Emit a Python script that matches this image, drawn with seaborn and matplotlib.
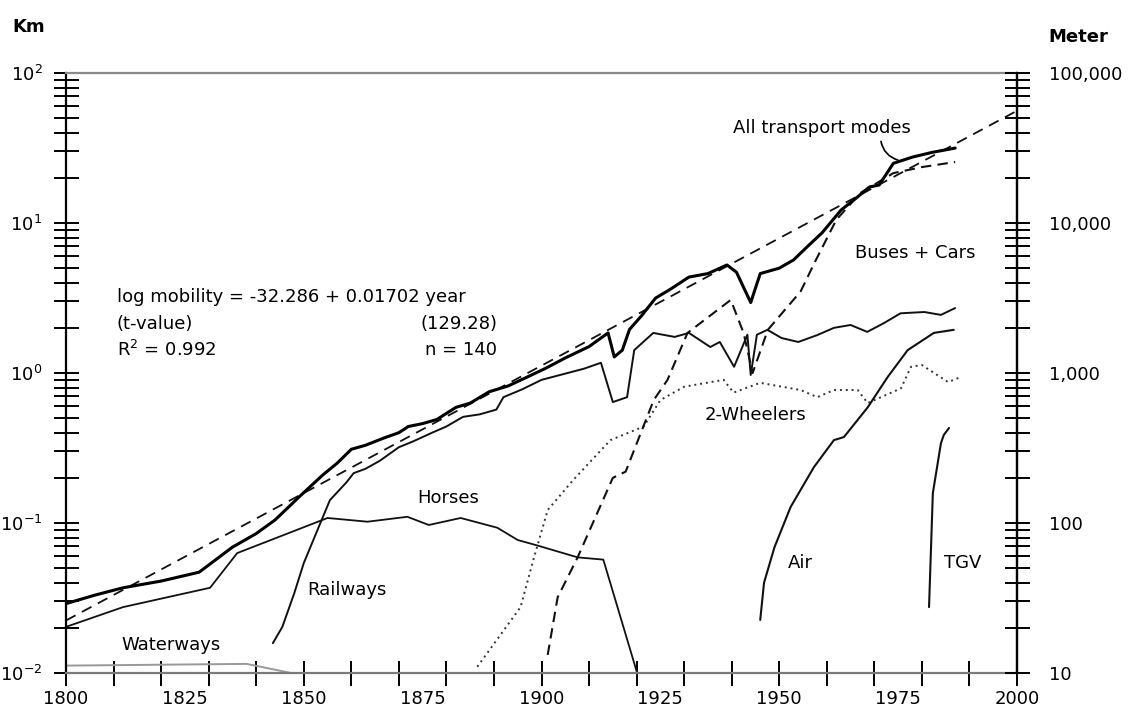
import numpy as np
import pandas as pd
import matplotlib
matplotlib.use("Agg")
import matplotlib.pyplot as plt
import seaborn as sns
from matplotlib.ticker import FixedLocator, NullFormatter, FixedFormatter

# ---------------- data (km per person per day, France) ----------------
trend_years = [1800, 2000]
trend_vals = [0.0224, 56.0]

all_years = [1800, 1806, 1812, 1820, 1828, 1835, 1840, 1844, 1849, 1854, 1857, 1860, 1863,
             1867, 1870, 1872, 1875, 1878, 1882, 1885, 1889, 1893, 1897, 1901, 1905, 1910,
             1914, 1915.3, 1917, 1918.5, 1921, 1924, 1927, 1931, 1935, 1939, 1941, 1944,
             1946, 1950, 1953, 1956, 1959, 1963, 1966, 1969, 1971, 1974, 1978, 1982, 1987]
all_vals = [0.029, 0.033, 0.037, 0.041, 0.047, 0.069, 0.085, 0.105, 0.149, 0.209, 0.25, 0.31,
            0.33, 0.37, 0.40, 0.44, 0.46, 0.49, 0.59, 0.63, 0.75, 0.82, 0.94, 1.08, 1.26, 1.5,
            1.85, 1.28, 1.42, 1.95, 2.4, 3.16, 3.6, 4.36, 4.6, 5.25, 4.7, 2.95,
            4.6, 5.0, 5.67, 7.0, 8.6, 12.2, 14.5, 17.4, 17.9, 25.0, 27.5, 29.5, 31.6]

rail_years = [1843.5, 1845.5, 1848, 1850, 1853.5, 1855.5, 1859, 1860.5, 1863, 1866, 1870, 1873,
              1877, 1880, 1883.5, 1887, 1890.5, 1892, 1896, 1900, 1905.5, 1909, 1912.5, 1915,
              1918, 1919.5, 1923.5, 1928, 1931, 1935.5, 1937.5, 1940.5, 1943.3, 1944, 1945.3,
              1947.5, 1950.5, 1954, 1958, 1961.5, 1965, 1968.5, 1972, 1975.5, 1980.5, 1984, 1987]
rail_vals = [0.0158, 0.0203, 0.034, 0.054, 0.1, 0.142, 0.187, 0.215, 0.23, 0.26, 0.32, 0.35,
             0.4, 0.44, 0.51, 0.53, 0.57, 0.69, 0.78, 0.9, 1.0, 1.07, 1.17, 0.64,
             0.69, 1.42, 1.85, 1.74, 1.85, 1.49, 1.61, 1.1, 1.8, 0.97, 1.8,
             1.94, 1.71, 1.61, 1.79, 2.0, 2.09, 1.88, 2.15, 2.5, 2.55, 2.44, 2.71]

horse_years = [1800, 1812, 1830.3, 1836, 1855, 1863.4, 1871.8, 1876.3, 1883, 1890.7, 1895,
               1899, 1907.6, 1913, 1920.2]
horse_vals = [0.0203, 0.0275, 0.037, 0.063, 0.108, 0.102, 0.11, 0.097, 0.108, 0.093, 0.077,
              0.071, 0.059, 0.057, 0.0098]

water_years = [1800, 1838, 1848]
water_vals = [0.0112, 0.0115, 0.0099]

bus_years = [1901.3, 1903.4, 1907.6, 1915, 1917.7, 1922, 1923.6, 1926.5, 1930.7, 1939.8,
             1942.5, 1944.4, 1947.6, 1954.5, 1957.5, 1962, 1967, 1974, 1980, 1987]
bus_vals = [0.0132, 0.032, 0.059, 0.2, 0.22, 0.49, 0.66, 0.9, 1.85, 3.07,
            1.85, 1.0, 1.94, 3.5, 5.5, 10.5, 15.8, 21.5, 23.6, 25.5]

wheel_years = [1886.5, 1895.6, 1898.3, 1901.3, 1906.7, 1914.5, 1921.5, 1925, 1930, 1938.3,
               1940.4, 1946, 1954.5, 1958, 1961.5, 1966.5, 1968.6, 1975.6, 1977.7, 1980,
               1985.5, 1987.8]
wheel_vals = [0.011, 0.0275, 0.057, 0.122, 0.194, 0.357, 0.44, 0.66, 0.81, 0.9,
              0.74, 0.86, 0.77, 0.69, 0.77, 0.77, 0.63, 0.79, 1.1, 1.13, 0.87, 0.93]

air_years = [1946, 1946.8, 1949, 1952.4, 1957.3, 1961.5, 1963.6, 1968.6, 1972.8, 1977,
             1982.5, 1986.7]
air_vals = [0.0226, 0.04, 0.069, 0.128, 0.236, 0.357, 0.374, 0.59, 0.94, 1.42, 1.85, 1.94]

tgv_years = [1981.5, 1982.3, 1984, 1984.6, 1985.7]
tgv_vals = [0.0275, 0.158, 0.34, 0.386, 0.43]

x_label_years = [1800, 1825, 1850, 1875, 1900, 1925, 1950, 1975, 2000]
x_tick_years = list(range(1800, 2001, 10))
left_labels = [r"$\mathregular{10^{-2}}$", r"$\mathregular{10^{-1}}$",
               r"$\mathregular{10^{0}}$", r"$\mathregular{10^{1}}$", r"$\mathregular{10^{2}}$"]
right_labels = ["10", "100", "1,000", "10,000", "100,000"]

# ---------------- figure ----------------
sns.set_theme(style="white")
plt.rcParams['font.family'] = ['DejaVu Sans']
plt.rcParams['text.color'] = 'black'
plt.rcParams['xtick.color'] = 'black'
plt.rcParams['ytick.color'] = 'black'
plt.rcParams['axes.labelcolor'] = 'black'
W, H = 1129, 713
fig = plt.figure(figsize=(W / 100, H / 100), dpi=100)
L, R, T, B = 66, 1017, 73, 673
ax = fig.add_axes([L / W, 1 - B / H, (R - L) / W, (B - T) / H])
ax.set_yscale('log')
ax.set_xlim(1800, 2000)
ax.set_ylim(0.01, 100)

def px(x, y):
    return (x / W, 1 - y / H)

def draw(xs, ys, **kw):
    sns.lineplot(x=xs, y=ys, ax=ax, sort=False, estimator=None, legend=False, **kw)

ink = "#111111"
draw(water_years, water_vals, color="#999999", linewidth=1.4)
draw(horse_years, horse_vals, color=ink, linewidth=1.3)
draw(rail_years, rail_vals, color=ink, linewidth=1.4)
draw(wheel_years, wheel_vals, color="#333333", linewidth=1.4, linestyle=(0, (1, 2)))
draw(bus_years, bus_vals, color=ink, linewidth=1.5, linestyle=(0, (5, 3)))
draw(air_years, air_vals, color=ink, linewidth=1.5)
draw(tgv_years, tgv_vals, color=ink, linewidth=1.5)
draw(trend_years, trend_vals, color=ink, linewidth=1.3, linestyle=(0, (6, 4)))
draw(all_years, all_vals, color="black", linewidth=2.2)

# ---------------- axes styling ----------------
for s in ["left", "right"]:
    ax.spines[s].set_color("black")
    ax.spines[s].set_linewidth(1.6)
ax.spines["top"].set_color("#8a8a8a")
ax.spines["top"].set_linewidth(1.6)
ax.spines["bottom"].set_color("#7a7a7a")
ax.spines["bottom"].set_linewidth(1.6)

# x: 10-year tick marks, labels every 25 years
ax.xaxis.remove_overlapping_locs = False
ax.xaxis.set_major_locator(FixedLocator(x_tick_years))
ax.xaxis.set_major_formatter(NullFormatter())
ax.xaxis.set_minor_locator(FixedLocator(x_label_years))
ax.xaxis.set_minor_formatter(FixedFormatter([str(v) for v in x_label_years]))
ax.tick_params(axis='x', which='major', direction='inout', length=18, width=1.4,
               color="black", bottom=True)
ax.tick_params(axis='x', which='minor', length=0, labelsize=13, pad=12, bottom=True,
               labelcolor="black")

dec = [0.01, 0.1, 1, 10, 100]
minors = [m * d for d in dec[:-1] for m in range(2, 10)]
ax.yaxis.set_major_locator(FixedLocator(dec))
ax.yaxis.set_major_formatter(FixedFormatter(left_labels))
ax.yaxis.set_minor_locator(FixedLocator(minors))
ax.yaxis.set_minor_formatter(NullFormatter())
ax.tick_params(axis='y', which='both', direction='inout', length=18, width=1.4,
               color="black", left=True)
ax.tick_params(axis='y', which='major', labelsize=13, pad=8)

ax2 = ax.twinx()
ax2.set_yscale('log')
ax2.set_ylim(10, 100000)
rdec = [10, 100, 1000, 10000, 100000]
rminors = [m * d for d in rdec[:-1] for m in range(2, 10)]
ax2.yaxis.set_major_locator(FixedLocator(rdec))
ax2.yaxis.set_major_formatter(FixedFormatter(right_labels))
ax2.yaxis.set_minor_locator(FixedLocator(rminors))
ax2.yaxis.set_minor_formatter(NullFormatter())
ax2.tick_params(axis='y', which='both', direction='inout', length=18, width=1.4,
                color="black", right=True)
ax2.tick_params(axis='y', which='major', labelsize=13, pad=14)
for s in ["left", "top", "bottom"]:
    ax2.spines[s].set_visible(False)
ax2.spines["right"].set_color("black")
ax2.spines["right"].set_linewidth(1.6)
ax2.grid(False)
ax.grid(False)

# ---------------- texts ----------------
fs = 13
fig.text(*px(12, 27), "Km", fontsize=13, fontweight="bold", ha="left", va="center")
fig.text(*px(1048, 37), "Meter", fontsize=13, fontweight="bold", ha="left", va="center")

fig.text(*px(117, 297), "log mobility = -32.286 + 0.01702 year", fontsize=fs, ha="left", va="center")
fig.text(*px(117, 324), "(t-value)", fontsize=fs, ha="left", va="center")
fig.text(*px(497, 324), "(129.28)", fontsize=fs, ha="right", va="center")
fig.text(*px(117, 350), r"R$\mathregular{^2}$ = 0.992", fontsize=fs, ha="left", va="center")
fig.text(*px(497, 350), "n = 140", fontsize=fs, ha="right", va="center")

fig.text(*px(822, 128), "All transport modes", fontsize=fs, ha="center", va="center")
fig.text(*px(915, 253), "Buses + Cars", fontsize=fs, ha="center", va="center")
fig.text(*px(756, 415), "2-Wheelers", fontsize=fs, ha="center", va="center")
fig.text(*px(448, 498), "Horses", fontsize=fs, ha="center", va="center")
fig.text(*px(347, 590), "Railways", fontsize=fs, ha="center", va="center")
fig.text(*px(171, 645), "Waterways", fontsize=fs, ha="center", va="center")
fig.text(*px(800, 563), "Air", fontsize=fs, ha="center", va="center")
fig.text(*px(963, 563), "TGV", fontsize=fs, ha="center", va="center")

ax.annotate("", xy=(1975.5, 26.0), xytext=(1971.3, 36.5),
            arrowprops=dict(arrowstyle="-", color="black", lw=1.2,
                            connectionstyle="arc3,rad=0.35"))

fig.savefig("out.png", dpi=100, facecolor="white")
